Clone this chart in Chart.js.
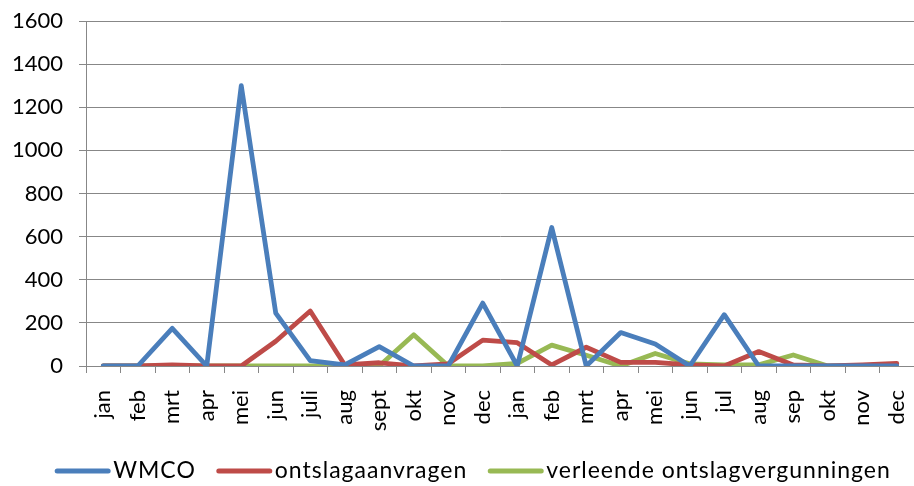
<!DOCTYPE html>
<html>
<head>
<meta charset="utf-8">
<script src="https://cdn.jsdelivr.net/npm/chart.js@4/dist/chart.umd.min.js"></script>
<style>
  html, body { margin: 0; padding: 0; background: #fff; }
  #wrap { width: 914px; height: 486px; }
</style>
</head>
<body>
<div id="wrap"><canvas id="chart"></canvas></div>
<script>
const months = ['jan','feb','mrt','apr','mei','jun','juli','aug','sept','okt','nov','dec',
                'jan','feb','mrt','apr','mei','jun','jul','aug','sep','okt','nov','dec'];
const wmco = [0, 0, 175, 0, 1300, 245, 25, 5, 90, 0, 0, 292,
              0, 642, 0, 155, 102, 0, 238, 0, 0, 0, 0, 0];
const ontslagaanvragen = [0, 0, 5, 0, 0, 115, 255, 5, 15, 0, 10, 120,
                          108, 5, 87, 17, 17, 5, 0, 67, 5, 0, 5, 12];
const vergunningen = [0, 0, 0, 0, 0, 0, 0, 0, 0, 145, 0, 0,
                      12, 97, 50, 0, 58, 10, 5, 5, 51, 0, 0, 0];
const yTicks = [0, 200, 400, 600, 800, 1000, 1200, 1400, 1600];

const FONT = 'Lato, "Liberation Sans", sans-serif';
const gridColor = '#878787';

function line(label, data, color) {
  return {
    label, data,
    borderColor: color, backgroundColor: color,
    borderWidth: 4.8, pointRadius: 0, tension: 0,
    borderCapStyle: 'round', borderJoinStyle: 'round'
  };
}

// legend drawn under the axis labels, Excel style (long line, text right next to it)
const bottomLegend = {
  id: 'bottomLegend',
  afterDraw(chart) {
    const ctx = chart.ctx;
    const sets = chart.data.datasets;
    const lineLen = 55, gap = 3, spacing = 21, centerX = 473, y = 471;
    ctx.save();
    ctx.font = '23px ' + FONT;
    ctx.letterSpacing = '1px';
    const widths = sets.map(d => lineLen + gap + ctx.measureText(d.label).width);
    const total = widths.reduce((a, b) => a + b, 0) + spacing * (sets.length - 1);
    let x = centerX - total / 2;
    sets.forEach((d, i) => {
      ctx.strokeStyle = d.borderColor;
      ctx.lineWidth = 5;
      ctx.lineCap = 'round';
      ctx.beginPath();
      ctx.moveTo(x + 2, y);
      ctx.lineTo(x + lineLen - 2, y);
      ctx.stroke();
      ctx.fillStyle = '#000';
      ctx.textBaseline = 'middle';
      ctx.fillText(d.label, x + lineLen + gap, y);
      x += widths[i] + spacing;
    });
    ctx.restore();
  }
};

new Chart(document.getElementById('chart'), {
  type: 'line',
  data: {
    labels: months,
    datasets: [
      line('WMCO', wmco, '#4a7ebb'),
      line('ontslagaanvragen', ontslagaanvragen, '#be4b48'),
      line('verleende ontslagvergunningen', vergunningen, '#98b954')
    ]
  },
  plugins: [bottomLegend],
  options: {
    responsive: true, maintainAspectRatio: false, animation: false,
    layout: { padding: { top: 21, right: 0, left: 0, bottom: 36 } },
    plugins: {
      legend: { display: false },
      tooltip: { enabled: false }
    },
    scales: {
      x: {
        offset: true,
        afterFit: s => { s.height = 84; s.paddingLeft = 0; s.paddingRight = 0; },
        grid: { offset: true, drawOnChartArea: false, color: gridColor, tickLength: 7 },
        border: { color: gridColor, width: 1 },
        ticks: { minRotation: 90, maxRotation: 90, autoSkip: false, color: '#000', padding: 17,
                 font: { family: FONT, size: 22 } }
      },
      y: {
        min: 0, max: 1600,
        afterFit: s => { s.width = 86; s.paddingTop = 0; s.paddingBottom = 0; },
        afterBuildTicks: s => { s.ticks = yTicks.map(v => ({ value: v })); },
        grid: { color: gridColor, tickLength: 7, lineWidth: 1 },
        border: { color: gridColor, width: 1 },
        ticks: { color: '#000', padding: 16, font: { family: FONT, size: 22 },
                 callback: v => String(v) }
      }
    }
  }
});
</script>
</body>
</html>
